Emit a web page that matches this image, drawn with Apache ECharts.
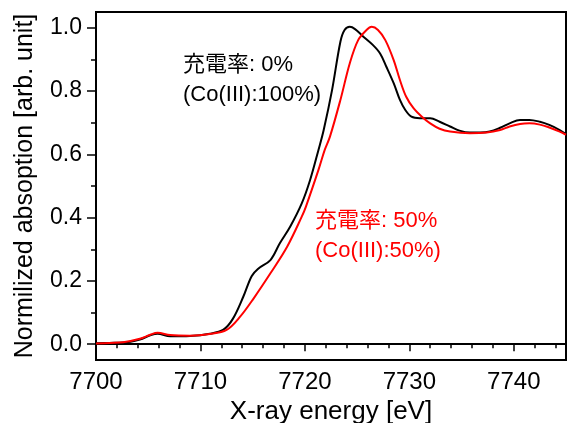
<!DOCTYPE html>
<html>
<head>
<meta charset="utf-8">
<script src="https://cdn.jsdelivr.net/npm/echarts@6/dist/echarts.min.js"></script>
<style>
  html, body { margin: 0; padding: 0; background: #fff; }
  #chart { width: 567px; height: 423px; }
</style>
</head>
<body>
<div id="chart"></div>
<script>
// ---- Data ----
const energy0 = [7700.0, 7701.3, 7702.6, 7704.2, 7705.2, 7705.9, 7707.1, 7709.0, 7710.9, 7712.2, 7713.1, 7714.1, 7714.9, 7715.5, 7716.7, 7717.6, 7718.6, 7719.7, 7720.5, 7721.3, 7721.8, 7722.6, 7723.4, 7723.8, 7724.3, 7724.8, 7725.6, 7726.5, 7727.2, 7727.8, 7728.5, 7729.1, 7729.6, 7730.2, 7731.0, 7732.0, 7732.9, 7733.9, 7734.8, 7735.8, 7736.8, 7737.7, 7738.7, 7739.6, 7740.6, 7741.5, 7742.5, 7743.4, 7744.4, 7745.0];
const absorb0 = [0.003, 0.004, 0.005, 0.015, 0.028, 0.033, 0.025, 0.026, 0.033, 0.046, 0.080, 0.150, 0.215, 0.238, 0.266, 0.319, 0.372, 0.445, 0.519, 0.614, 0.677, 0.803, 0.956, 0.993, 1.003, 0.996, 0.972, 0.946, 0.919, 0.877, 0.825, 0.772, 0.741, 0.719, 0.714, 0.714, 0.703, 0.688, 0.675, 0.669, 0.669, 0.672, 0.684, 0.698, 0.709, 0.709, 0.703, 0.693, 0.677, 0.664];

const energy50 = [7700.0, 7701.3, 7702.6, 7704.2, 7705.2, 7705.9, 7707.1, 7709.0, 7710.9, 7712.5, 7713.8, 7715.1, 7716.7, 7718.3, 7719.7, 7720.1, 7721.3, 7721.9, 7722.4, 7723.4, 7724.3, 7725.1, 7725.9, 7726.4, 7727.0, 7727.7, 7728.5, 7729.1, 7729.7, 7730.4, 7731.2, 7732.0, 7732.9, 7733.9, 7735.8, 7737.4, 7738.7, 7739.6, 7740.6, 7741.5, 7742.5, 7743.4, 7744.4, 7745.0];
const absorb50 = [0.002, 0.004, 0.006, 0.017, 0.030, 0.036, 0.029, 0.027, 0.032, 0.045, 0.087, 0.145, 0.224, 0.308, 0.403, 0.435, 0.551, 0.614, 0.656, 0.772, 0.888, 0.961, 0.993, 1.003, 0.993, 0.961, 0.898, 0.835, 0.782, 0.746, 0.719, 0.698, 0.681, 0.672, 0.667, 0.669, 0.677, 0.688, 0.696, 0.698, 0.694, 0.685, 0.672, 0.662];

const xMajorTicks = [7700, 7710, 7720, 7730, 7740];
const xMinorTicks = [7702, 7704, 7706, 7708, 7712, 7714, 7716, 7718, 7722, 7724, 7726, 7728, 7732, 7734, 7736, 7738, 7742, 7744];
const yMajorTicks = [0.0, 0.2, 0.4, 0.6, 0.8, 1.0];
const yMinorTicks = [0.1, 0.3, 0.5, 0.7, 0.9];

const xTitle = 'X-ray energy [eV]';
const yTitle = 'Normilized absoption [arb. unit]';
const label0 = ['充電率: 0%', '(Co(III):100%)'];
const label50 = ['充電率: 50%', '(Co(III):50%)'];

// ---- Chart ----
const FONT = "'Liberation Sans', Arial, 'Noto Sans CJK JP', sans-serif";
const zip = (xs, ys) => xs.map((x, i) => [x, ys[i]]);

const chart = echarts.init(document.getElementById('chart'), null, { renderer: 'canvas' });

const baseX = { type: 'value', min: 7700, max: 7745, position: 'bottom', splitLine: { show: false } };
const baseY = { type: 'value', min: -0.05, max: 1.05, position: 'left', splitLine: { show: false } };

chart.setOption({
  animation: false,
  backgroundColor: '#ffffff',
  grid: {
    left: 96, right: 1, top: 12, bottom: 63,
    containLabel: false, outerBoundsMode: 'none',
    show: true, borderColor: '#000', borderWidth: 2, backgroundColor: 'transparent'
  },
  xAxis: [
    Object.assign({}, baseX, {
      axisLine: { show: true, lineStyle: { color: '#000', width: 2 } },
      axisTick: { show: true, inside: false, length: 7, customValues: xMajorTicks, lineStyle: { color: '#000', width: 1.5 } },
      axisLabel: { show: true, customValues: xMajorTicks, margin: 10, fontSize: 24, color: '#000', fontFamily: FONT,
        formatter: v => String(Math.round(v)) },
      name: xTitle, nameLocation: 'middle', nameGap: 32,
      nameTextStyle: { fontSize: 26, color: '#000', fontFamily: FONT }
    }),
    Object.assign({}, baseX, {
      axisLine: { show: false },
      axisTick: { show: true, inside: false, length: 4, customValues: xMinorTicks, lineStyle: { color: '#000', width: 1.5 } },
      axisLabel: { show: false }
    })
  ],
  yAxis: [
    Object.assign({}, baseY, {
      axisLine: { show: true, lineStyle: { color: '#000', width: 2 } },
      axisTick: { show: true, inside: false, length: 9, customValues: yMajorTicks, lineStyle: { color: '#000', width: 1.5 } },
      axisLabel: { show: true, customValues: yMajorTicks, margin: 14, fontSize: 23, color: '#000', fontFamily: FONT,
        formatter: v => Number(v).toFixed(1) },
      name: yTitle, nameLocation: 'middle', nameGap: 58,
      nameTextStyle: { fontSize: 25, color: '#000', fontFamily: FONT }
    }),
    Object.assign({}, baseY, {
      axisLine: { show: false },
      axisTick: { show: true, inside: false, length: 5, customValues: yMinorTicks, lineStyle: { color: '#000', width: 1.5 } },
      axisLabel: { show: false }
    })
  ],
  series: [
    {
      name: '0%', type: 'line', xAxisIndex: 0, yAxisIndex: 0,
      data: zip(energy0, absorb0), smooth: 0.35, showSymbol: false, clip: true,
      lineStyle: { color: '#000', width: 2 }
    },
    {
      name: '50%', type: 'line', xAxisIndex: 0, yAxisIndex: 0,
      data: zip(energy50, absorb50), smooth: 0.35, showSymbol: false, clip: true,
      lineStyle: { color: '#ff0000', width: 2 }
    }
  ],
  graphic: [
    { type: 'text', x: 183, y: 65, style: { text: label0[0], fill: '#000', font: '22px ' + FONT, verticalAlign: 'middle' } },
    { type: 'text', x: 183, y: 95, style: { text: label0[1], fill: '#000', font: '22px ' + FONT, verticalAlign: 'middle' } },
    { type: 'text', x: 315, y: 221, style: { text: label50[0], fill: '#ff0000', font: '22px ' + FONT, verticalAlign: 'middle' } },
    { type: 'text', x: 315, y: 251, style: { text: label50[1], fill: '#ff0000', font: '22px ' + FONT, verticalAlign: 'middle' } }
  ]
});
</script>
</body>
</html>
